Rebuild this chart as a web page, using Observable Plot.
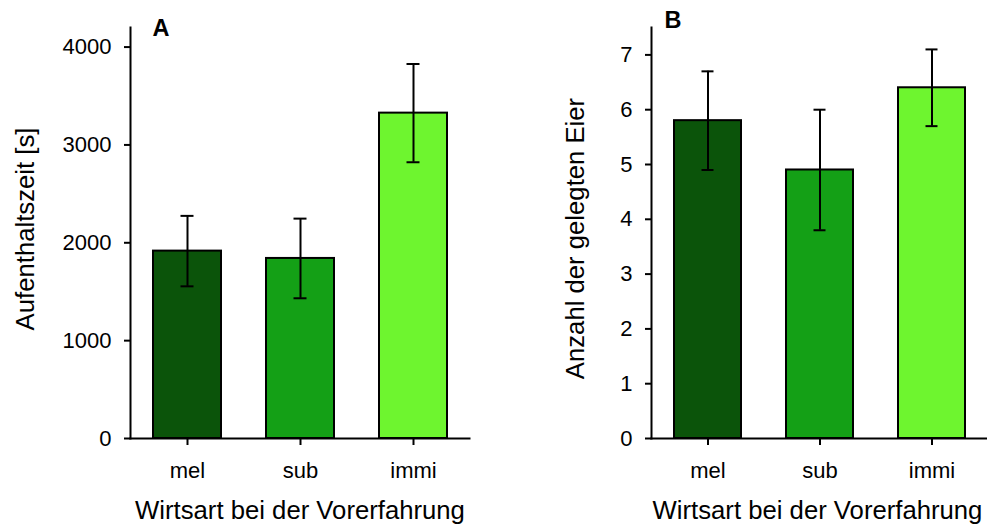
<!DOCTYPE html>
<html>
<head>
<meta charset="utf-8">
<script src="https://cdn.jsdelivr.net/npm/d3@7"></script>
<script src="https://cdn.jsdelivr.net/npm/@observablehq/plot@0.6"></script>
<style>
  body { margin: 0; background: #fff; }
  #wrap { position: relative; width: 987px; height: 524px; overflow: hidden; background: #fff; }
  #wrap svg { position: absolute; top: 0; }
</style>
</head>
<body>
<div id="wrap"></div>
<script>
// ---- data ----
const categories = ["mel", "sub", "immi"];
const barColors = ["#0b540a", "#14a016", "#6ef52f"];

// Panel A: Aufenthaltszeit [s]
const timeMeans = [1915, 1840, 3325];
const timeErrors = [360, 407, 502];
const timeTicks = [0, 1000, 2000, 3000, 4000];

// Panel B: Anzahl der gelegten Eier
const eggMeans = [5.8, 4.9, 6.4];
const eggErrors = [0.9, 1.1, 0.7];
const eggTicks = [0, 1, 2, 3, 4, 5, 6, 7];

const xTitle = "Wirtsart bei der Vorerfahrung";
const yTitleA = "Aufenthaltszeit [s]";
const yTitleB = "Anzahl der gelegten Eier";

const FONT = "'Liberation Sans', Arial, Helvetica, sans-serif";

function panel(opts) {
  const data = categories.map((c, i) => ({
    cat: c,
    mean: opts.means[i],
    lo: opts.means[i] - opts.errors[i],
    hi: opts.means[i] + opts.errors[i]
  }));
  const H = 524, mt = 27, mb = 86;
  const frameMidY = (mt + (H - mb)) / 2;
  const chart = Plot.plot({
    width: opts.width,
    height: H,
    marginLeft: opts.marginLeft,
    marginRight: opts.marginRight,
    marginTop: mt,
    marginBottom: mb,
    style: { fontFamily: FONT, fontSize: "22px", color: "#000", background: "transparent", overflow: "visible" },
    x: { domain: categories, paddingInner: 0.4, paddingOuter: 0.2 },
    y: { domain: opts.yDomain },
    color: { type: "ordinal", domain: categories, range: barColors },
    marks: [
      Plot.barY(data, { x: "cat", y: "mean", fill: "cat", stroke: "#000", strokeWidth: 2 }),
      Plot.ruleX(data, { x: "cat", y1: "lo", y2: "hi", stroke: "#000", strokeWidth: 2 }),
      Plot.tickY(data, { x: "cat", y: "hi", stroke: "#000", strokeWidth: 2, insetLeft: 27.5, insetRight: 27.5 }),
      Plot.tickY(data, { x: "cat", y: "lo", stroke: "#000", strokeWidth: 2, insetLeft: 27.5, insetRight: 27.5 }),
      Plot.frame({ anchor: "left", stroke: "#000", strokeWidth: 2 }),
      Plot.frame({ anchor: "bottom", stroke: "#000", strokeWidth: 2 }),
      Plot.axisY({ ticks: opts.yTicks, tickFormat: d => String(d), tickSize: 6, tickPadding: 13, fontSize: 22, stroke: "#000", strokeWidth: 2, label: null }),
      Plot.axisX({ tickSize: 7, tickPadding: 17, fontSize: 22, stroke: "#000", strokeWidth: 2, label: null }),
      Plot.text([opts.yTitle], {
        frameAnchor: "left", rotate: -90, textAnchor: "middle", lineAnchor: "bottom",
        dx: (opts.yTitleX - opts.left) - opts.marginLeft, dy: opts.yTitleCY - frameMidY,
        fontSize: 25.7, fill: "#000"
      }),
      Plot.text([xTitle], {
        frameAnchor: "bottom", textAnchor: "middle", lineAnchor: "bottom",
        dx: opts.xTitleDx, dy: 518 - (H - mb),
        fontSize: 25.7, fill: "#000"
      }),
      Plot.text([opts.letter], {
        frameAnchor: "top-left", textAnchor: "start", lineAnchor: "bottom",
        dx: opts.letterDx, dy: opts.letterDy,
        fontSize: 23.5, fontWeight: "bold", fill: "#000"
      })
    ]
  });
  chart.style.left = opts.left + "px";
  return chart;
}

const wrap = document.getElementById("wrap");
wrap.appendChild(panel({
  letter: "A", means: timeMeans, errors: timeErrors, yDomain: [0, 4200], yTicks: timeTicks, yTitle: yTitleA,
  left: 0, width: 494, marginLeft: 130, marginRight: 25,
  yTitleX: 33, yTitleCY: 228.5, xTitleDx: 0, letterDx: 22, letterDy: 8
}));
wrap.appendChild(panel({
  letter: "B", means: eggMeans, errors: eggErrors, yDomain: [0, 7.5], yTicks: eggTicks, yTitle: yTitleB,
  left: 494, width: 494, marginLeft: 157, marginRight: 0,
  yTitleX: 583, yTitleCY: 238, xTitleDx: -2.5, letterDx: 13, letterDy: 0
}));
</script>
</body>
</html>
